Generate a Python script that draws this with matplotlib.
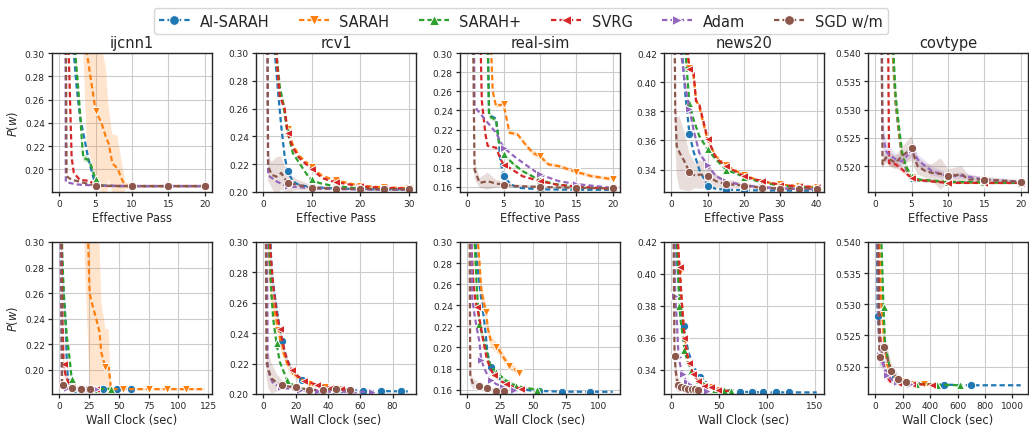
import numpy as np
import matplotlib
matplotlib.use("Agg")
import matplotlib.pyplot as plt
from matplotlib.lines import Line2D
from matplotlib.ticker import MultipleLocator

SERIES = ["AI-SARAH", "SARAH", "SARAH+", "SVRG", "Adam", "SGD w/m"]
COLORS = ["#1f77b4", "#ff7f0e", "#2ca02c", "#d62728", "#9467bd", "#8c564b"]
MARKERS = ["o", "v", "^", "<", ">", "o"]
DATASETS = ["ijcnn1", "rcv1", "real-sim", "news20", "covtype"]

# ---------------- Effective pass (top row) ----------------
IJCNN1_EP = {
    "AI-SARAH": dict(x=[0, 1, 1.5, 2, 2.4, 2.85, 3.5, 3.96, 4.6, 5, 6, 8, 10, 15, 20],
                     y=[0.693, 0.45, 0.34, 0.30, 0.27, 0.245, 0.225, 0.21, 0.195, 0.1865, 0.1858, 0.1856, 0.1856, 0.1856, 0.1856]),
    "SARAH": dict(x=[0, 2, 3.5, 3.8, 5, 5.8, 6.4, 6.8, 7.3, 8, 8.7, 9.1, 10, 15, 20],
                  y=[0.693, 0.55, 0.35, 0.30, 0.25, 0.24, 0.228, 0.222, 0.205, 0.201, 0.19, 0.1858, 0.1856, 0.1856, 0.1856],
                  b=[0, 0.05, 0.08, 0.08, 0.055, 0.065, 0.06, 0.03, 0.025, 0.028, 0.012, 0.003, 0.001, 0.001, 0.001]),
    "SARAH+": dict(x=[0, 1, 2, 2.2, 2.6, 2.9, 3.1, 3.3, 4, 4.4, 4.8, 5.2, 6, 8, 10, 15, 20],
                   y=[0.693, 0.5, 0.32, 0.30, 0.27, 0.245, 0.225, 0.21, 0.208, 0.203, 0.195, 0.188, 0.186, 0.1856, 0.1856, 0.1856, 0.1856],
                   b=[0, 0, 0.004, 0.004, 0.004, 0.004, 0.004, 0.003, 0.003, 0.003, 0.002, 0.001, 0.001, 0, 0, 0, 0]),
    "SVRG": dict(x=[0, 1, 1.3, 1.7, 2, 2.8, 4.2, 5, 6, 10, 15, 20],
                 y=[0.693, 0.4, 0.30, 0.21, 0.197, 0.191, 0.19, 0.186, 0.1857, 0.1856, 0.1856, 0.1856]),
    "Adam": dict(x=[0, 0.85, 0.9, 2.4, 5, 10, 15, 20],
                 y=[0.693, 0.35, 0.189, 0.187, 0.186, 0.1856, 0.1856, 0.1856]),
    "SGD w/m": dict(x=[0, 0.85, 1, 1.7, 2.4, 5, 10, 15, 20],
                    y=[0.693, 0.40, 0.194, 0.191, 0.19, 0.1858, 0.1856, 0.1856, 0.1856]),
}
RCV1_EP = {
    "AI-SARAH": dict(x=[0, 2, 2.4, 3, 3.7, 4.4, 5, 6.1, 7.4, 10, 15, 20, 25, 30],
                     y=[0.693, 0.36, 0.30, 0.274, 0.2475, 0.226, 0.215, 0.2077, 0.205, 0.2035, 0.2025, 0.202, 0.2019, 0.2018]),
    "SARAH": dict(x=[0, 2, 2.7, 3.3, 4.3, 5, 6.1, 7.4, 10, 12, 14.2, 20, 25, 30],
                  y=[0.693, 0.38, 0.30, 0.272, 0.262, 0.245, 0.234, 0.226, 0.218, 0.212, 0.209, 0.2045, 0.2033, 0.2028]),
    "SARAH+": dict(x=[0, 2, 2.7, 3.4, 4.05, 4.9, 6.1, 7.4, 9.5, 11.5, 14.2, 20, 25, 30],
                   y=[0.693, 0.38, 0.30, 0.276, 0.265, 0.245, 0.228, 0.221, 0.21, 0.2065, 0.2045, 0.2025, 0.2018, 0.2015]),
    "SVRG": dict(x=[0, 2, 2.7, 3.4, 4.4, 5, 6.1, 7.4, 10.1, 12.2, 14.2, 20, 25, 30],
                 y=[0.693, 0.38, 0.30, 0.269, 0.26, 0.2427, 0.232, 0.2246, 0.216, 0.21, 0.2077, 0.204, 0.203, 0.2025]),
    "Adam": dict(x=[0, 0.8, 1, 2.7, 4, 5, 7.4, 10, 15, 20, 30],
                 y=[0.693, 0.35, 0.212, 0.2077, 0.2055, 0.204, 0.2035, 0.2025, 0.202, 0.2018, 0.2015]),
    "SGD w/m": dict(x=[0, 0.8, 1, 1.7, 2.7, 3.7, 5, 6.8, 10, 15, 20, 25, 30],
                    y=[0.693, 0.35, 0.2186, 0.2125, 0.211, 0.2137, 0.2065, 0.2053, 0.203, 0.2025, 0.2022, 0.202, 0.202],
                    b=[0, 0.01, 0.011, 0.009, 0.014, 0.012, 0.007, 0.004, 0.002, 0.001, 0.001, 0.001, 0.001]),
}
REALSIM_EP = {
    "AI-SARAH": dict(x=[0, 2.8, 3, 3.95, 4.3, 4.6, 5, 6, 7.1, 10, 15, 20],
                     y=[0.693, 0.32, 0.235, 0.2314, 0.21, 0.185, 0.1712, 0.1625, 0.159, 0.1575, 0.157, 0.157]),
    "SARAH": dict(x=[0, 3.2, 3.5, 3.95, 5, 5.8, 6.9, 8, 9, 10, 11.2, 12.6, 15, 17.1, 20],
                  y=[0.693, 0.32, 0.26, 0.2447, 0.2464, 0.2167, 0.215, 0.2044, 0.1957, 0.192, 0.1834, 0.1817, 0.1757, 0.1712, 0.168],
                  b=[0, 0, 0.002, 0.002, 0.002, 0.002, 0.002, 0.002, 0.003, 0.003, 0.002, 0.002, 0.002, 0.002, 0.002]),
    "SARAH+": dict(x=[0, 2.8, 3, 3.95, 4.3, 4.7, 5, 6.2, 7.6, 10, 12, 15, 20],
                   y=[0.693, 0.32, 0.234, 0.23, 0.21, 0.198, 0.194, 0.185, 0.1765, 0.167, 0.163, 0.160, 0.158],
                   b=[0, 0, 0.003, 0.003, 0.002, 0.002, 0.002, 0.002, 0.001, 0.001, 0.001, 0.001, 0.001]),
    "SVRG": dict(x=[0, 1.8, 2, 2.5, 2.8, 3.95, 4.6, 5, 6, 7.6, 10, 12.6, 15, 20],
                 y=[0.693, 0.32, 0.25, 0.215, 0.203, 0.201, 0.1887, 0.1834, 0.179, 0.1712, 0.166, 0.162, 0.1605, 0.158]),
    "Adam": dict(x=[0, 0.9, 1, 2.8, 3.95, 5, 6.7, 9, 10, 12.6, 15, 20],
                 y=[0.693, 0.32, 0.244, 0.2272, 0.2167, 0.201, 0.1904, 0.178, 0.173, 0.166, 0.163, 0.159]),
    "SGD w/m": dict(x=[0, 0.8, 1, 1.7, 2.8, 3.95, 5, 6.2, 10, 15, 20],
                    y=[0.693, 0.32, 0.178, 0.1642, 0.166, 0.1635, 0.1625, 0.161, 0.16, 0.159, 0.1585],
                    b=[0, 0.01, 0.01, 0.005, 0.009, 0.004, 0.003, 0.002, 0.001, 0.001, 0.001]),
}
NEWS20_EP = {
    "AI-SARAH": dict(x=[0, 2.8, 3, 3.9, 5, 6.1, 7.7, 10, 12.3, 15, 20, 30, 40],
                     y=[0.693, 0.44, 0.42, 0.3906, 0.3646, 0.3526, 0.34, 0.3289, 0.3267, 0.3262, 0.3258, 0.3256, 0.3255]),
    "SARAH": dict(x=[0, 4.3, 4.5, 5, 6.1, 6.8, 7.7, 10, 12.3, 15, 16.8, 20, 25, 30, 35, 40],
                  y=[0.693, 0.44, 0.42, 0.41, 0.405, 0.388, 0.383, 0.36, 0.349, 0.343, 0.3405, 0.336, 0.3318, 0.3298, 0.3285, 0.328]),
    "SARAH+": dict(x=[0, 3.7, 3.9, 5, 6.1, 7.7, 10, 12.3, 15, 20, 25, 30, 35, 40],
                   y=[0.693, 0.44, 0.42, 0.3855, 0.3745, 0.363, 0.3538, 0.3469, 0.34, 0.335, 0.331, 0.329, 0.328, 0.3275]),
    "SVRG": dict(x=[0, 4.3, 4.5, 5, 6.1, 6.8, 7.7, 10, 12.3, 15, 16.8, 20, 25, 30, 35, 40],
                 y=[0.693, 0.44, 0.42, 0.409, 0.4078, 0.387, 0.3848, 0.3611, 0.348, 0.3423, 0.34, 0.3354, 0.332, 0.3295, 0.3285, 0.328]),
    "Adam": dict(x=[0, 2.5, 2.7, 3.9, 5, 6.1, 7.7, 10, 12.3, 15, 20, 30, 40],
                 y=[0.693, 0.44, 0.42, 0.3963, 0.3814, 0.3676, 0.3515, 0.3428, 0.3354, 0.332, 0.329, 0.327, 0.3265],
                 b=[0, 0, 0, 0.002, 0.002, 0.002, 0.002, 0.002, 0.001, 0.001, 0.001, 0.001, 0.001]),
    "SGD w/m": dict(x=[0, 0.9, 1.1, 1.5, 2.3, 3.6, 5, 6.8, 7.7, 10, 12.3, 15, 20, 25, 30, 35, 40],
                    y=[0.693, 0.44, 0.38, 0.356, 0.3515, 0.3457, 0.3382, 0.3354, 0.3366, 0.3359, 0.332, 0.3301, 0.329, 0.3274, 0.327, 0.327, 0.327],
                    b=[0, 0.01, 0.02, 0.02, 0.025, 0.02, 0.013, 0.008, 0.01, 0.008, 0.005, 0.003, 0.002, 0.001, 0.001, 0.001, 0.001]),
}
COVTYPE_EP = {
    "AI-SARAH": dict(x=[0, 2.2, 2.4, 2.8, 3.3, 3.7, 4.2, 5, 6, 10, 15, 20],
                     y=[0.693, 0.545, 0.54, 0.531, 0.525, 0.5215, 0.5195, 0.5178, 0.5174, 0.5171, 0.517, 0.517]),
    "SARAH": dict(x=[0, 2.2, 2.4, 2.8, 3.3, 3.7, 4.2, 5, 6, 10, 15, 20],
                  y=[0.693, 0.545, 0.54, 0.5315, 0.5255, 0.5218, 0.5198, 0.518, 0.5175, 0.5171, 0.517, 0.517]),
    "SARAH+": dict(x=[0, 2.3, 2.5, 2.8, 3.3, 3.7, 4.2, 5, 6, 10, 15, 20],
                   y=[0.693, 0.545, 0.54, 0.5324, 0.5265, 0.5224, 0.52, 0.5182, 0.5176, 0.5172, 0.5171, 0.517],
                   b=[0, 0.001, 0.001, 0.0012, 0.001, 0.0008, 0.0005, 0.0003, 0.0002, 0.0001, 0.0001, 0.0001]),
    "SVRG": dict(x=[0, 1.75, 1.9, 2.8, 3.7, 5, 6, 10, 15, 20],
                 y=[0.693, 0.545, 0.5205, 0.5203, 0.5194, 0.5178, 0.5175, 0.517, 0.517, 0.517],
                 b=[0, 0, 0.0006, 0.0006, 0.0005, 0.0003, 0.0002, 0.0001, 0.0001, 0.0001]),
    "Adam": dict(x=[0, 0.9, 1, 1.45, 1.9, 2.8, 3.7, 5, 6, 7.8, 10, 11.9, 15, 20],
                 y=[0.693, 0.545, 0.526, 0.5227, 0.522, 0.5212, 0.5208, 0.5228, 0.5209, 0.5191, 0.5182, 0.5183, 0.5176, 0.5172],
                 b=[0, 0, 0.004, 0.002, 0.0015, 0.001, 0.001, 0.0012, 0.001, 0.0008, 0.0005, 0.0005, 0.0003, 0.0002]),
    "SGD w/m": dict(x=[0, 0.85, 1, 1.45, 2.1, 2.8, 3.7, 5, 5.8, 6.9, 7.8, 9, 10, 11.9, 12.8, 15, 20],
                    y=[0.693, 0.545, 0.5203, 0.5215, 0.5211, 0.5206, 0.5218, 0.5231, 0.52, 0.5191, 0.5188, 0.5186, 0.5182, 0.5185, 0.5176, 0.5176, 0.5172],
                    b=[0, 0, 0.0008, 0.001, 0.0012, 0.0012, 0.0015, 0.0022, 0.0015, 0.0012, 0.0015, 0.0028, 0.0012, 0.0015, 0.0008, 0.0005, 0.0003]),
}

# ---------------- Wall clock (bottom row) ----------------
IJCNN1_WC = {
    "AI-SARAH": dict(x=[0, 1.5, 2, 3, 4.5, 5.5, 6.2, 7, 8, 10, 12, 20, 61],
                     y=[0.693, 0.35, 0.30, 0.27, 0.25, 0.235, 0.21, 0.197, 0.19, 0.1865, 0.1855, 0.1852, 0.1852],
                     m=[12.2, 24.4, 36.8, 48.3, 60.4],
                     b=[0, 0.01, 0.01, 0.01, 0.008, 0.006, 0.004, 0.003, 0.002, 0.001, 0, 0, 0]),
    "SARAH": dict(x=[0, 20, 24.2, 25.5, 28.3, 31, 33.8, 35.2, 38.7, 41.5, 43.4, 50, 122],
                  y=[0.693, 0.40, 0.30, 0.2595, 0.249, 0.24, 0.2295, 0.2138, 0.202, 0.202, 0.1851, 0.185, 0.185],
                  m=[38.7, 53.8, 75.0, 90.0, 106.6],
                  b=[0, 0.08, 0.08, 0.07, 0.07, 0.07, 0.07, 0.04, 0.03, 0.03, 0.002, 0.001, 0.001]),
    "SARAH+": dict(x=[0, 2, 2.5, 4, 5, 6.5, 7.7, 9, 10.4, 13, 16, 43.4],
                   y=[0.693, 0.32, 0.29, 0.255, 0.24, 0.225, 0.2165, 0.206, 0.193, 0.1865, 0.1853, 0.1852],
                   m=[10.4, 21, 32, 43.4]),
    "SVRG": dict(x=[0, 1.5, 2.5, 3.6, 5, 7.7, 10.4, 15, 33],
                 y=[0.693, 0.33, 0.25, 0.206, 0.197, 0.19, 0.187, 0.1855, 0.1852],
                 m=[3.8, 10.5, 17, 24, 31],
                 b=[0, 0.01, 0.01, 0.006, 0.004, 0.002, 0.001, 0, 0]),
    "Adam": dict(x=[0, 1, 2.2, 5, 10, 31],
                 y=[0.693, 0.30, 0.187, 0.1858, 0.1854, 0.1852],
                 m=[6.5, 12.5, 18.7, 25, 31]),
    "SGD w/m": dict(x=[0, 1.3, 2, 2.4, 4, 10.4, 26],
                    y=[0.693, 0.35, 0.24, 0.19, 0.187, 0.1855, 0.1852],
                    m=[3.5, 10.4, 18, 25.8]),
}
RCV1_WC = {
    "AI-SARAH": dict(x=[0, 3, 4.5, 5.1, 7.1, 9.2, 11.6, 14.3, 18.4, 22.4, 28.6, 36.7, 47, 62, 73, 90],
                     y=[0.693, 0.35, 0.30, 0.2803, 0.265, 0.2497, 0.2348, 0.2234, 0.2147, 0.2103, 0.207, 0.2048, 0.2033, 0.202, 0.2019, 0.2017],
                     m=[11.6, 24, 36.5, 49, 62, 73, 85],
                     b=[0, 0.01, 0.01, 0.008, 0.005, 0.004, 0.003, 0.002, 0.001, 0.001, 0.001, 0, 0, 0, 0, 0]),
    "SARAH": dict(x=[0, 2, 3, 4.1, 5.1, 7.1, 9.2, 12.2, 16.3, 22.4, 28.6, 34.7, 38.8, 47, 52],
                  y=[0.693, 0.35, 0.30, 0.2825, 0.265, 0.254, 0.242, 0.2278, 0.2158, 0.2103, 0.2066, 0.2052, 0.2045, 0.2033, 0.203],
                  m=[9.2, 18, 28.6, 38, 46],
                  b=[0, 0.01, 0.01, 0.008, 0.006, 0.005, 0.004, 0.003, 0.003, 0.002, 0.002, 0.001, 0.001, 0.001, 0.001]),
    "SARAH+": dict(x=[0, 2.5, 3.5, 5.1, 6.1, 8.2, 10.2, 14.7, 18.4, 22.4, 28.6, 34],
                   y=[0.693, 0.35, 0.30, 0.265, 0.2497, 0.2333, 0.2212, 0.2092, 0.2059, 0.2037, 0.202, 0.2011],
                   m=[8.2, 14.7, 21, 27.5, 34]),
    "SVRG": dict(x=[0, 3, 4.1, 6.1, 8.2, 10.2, 13.3, 16.3, 20.4, 25.5, 31.6, 38.8, 47, 52],
                 y=[0.693, 0.35, 0.30, 0.2716, 0.254, 0.243, 0.2278, 0.2179, 0.2125, 0.2085, 0.2066, 0.2044, 0.2033, 0.203],
                 m=[10.2, 18, 25.5, 33, 41, 48]),
    "Adam": dict(x=[0, 1.5, 2.3, 2.7, 4.1, 6.1, 10.2, 16.3, 28.6, 43, 67.3],
                 y=[0.693, 0.35, 0.30, 0.219, 0.2114, 0.207, 0.2048, 0.2033, 0.202, 0.2015, 0.2014],
                 m=[11, 22.5, 34, 45, 56, 67.3]),
    "SGD w/m": dict(x=[0, 1.2, 1.6, 2, 3.1, 5.1, 8.2, 11.8, 16.3, 20.4, 28.6, 37, 45.3, 53.5],
                    y=[0.693, 0.35, 0.30, 0.2212, 0.2158, 0.2103, 0.2074, 0.2059, 0.2048, 0.2045, 0.2026, 0.2026, 0.2032, 0.2026],
                    m=[11.8, 20.4, 28.6, 37, 45.3, 53.5],
                    b=[0, 0.01, 0.01, 0.01, 0.012, 0.01, 0.006, 0.003, 0.002, 0.001, 0.001, 0.001, 0.001, 0.001]),
}
REALSIM_WC = {
    "AI-SARAH": dict(x=[0, 5, 6.3, 7.3, 9.3, 10.6, 12.4, 13.9, 15.2, 16.9, 19.4, 24.5, 29.5, 36.4, 49.7, 72.5, 94, 111],
                     y=[0.693, 0.35, 0.30, 0.2815, 0.2593, 0.2465, 0.2306, 0.2147, 0.1972, 0.1861, 0.1765, 0.1702, 0.1654, 0.1613, 0.159, 0.1581, 0.158, 0.158],
                     m=[18, 36.4, 54.5, 72.5, 94]),
    "SARAH": dict(x=[0, 7, 8.1, 9.3, 10.6, 12.4, 14.4, 15.7, 18.2, 22, 24.5, 28.3, 32, 35.9, 39.6],
                  y=[0.693, 0.35, 0.30, 0.2815, 0.2561, 0.2434, 0.2338, 0.2179, 0.2052, 0.2004, 0.1972, 0.1893, 0.1829, 0.1797, 0.1759],
                  m=[14.4, 22, 32, 39.6],
                  b=[0, 0.01, 0.01, 0.01, 0.008, 0.008, 0.008, 0.006, 0.006, 0.005, 0.005, 0.004, 0.004, 0.003, 0.003]),
    "SARAH+": dict(x=[0, 5, 5.6, 7.3, 9.3, 11.9, 14.9, 16.9, 22, 29.5, 37.1, 44.7, 53.5, 58],
                   y=[0.693, 0.35, 0.30, 0.255, 0.222, 0.21, 0.196, 0.185, 0.1765, 0.1686, 0.1638, 0.1616, 0.16, 0.1598],
                   m=[9.3, 22, 37.1, 53.5],
                   b=[0, 0.005, 0.005, 0.005, 0.005, 0.004, 0.004, 0.003, 0.002, 0.002, 0.001, 0.001, 0.001, 0.001]),
    "SVRG": dict(x=[0, 2.5, 3, 4.8, 6.3, 7.3, 9.3, 11.9, 14.9, 18.2, 22, 27, 34.6, 42.2, 45],
                 y=[0.693, 0.35, 0.30, 0.2593, 0.2434, 0.2386, 0.2275, 0.2084, 0.1893, 0.1781, 0.1718, 0.167, 0.1629, 0.1606, 0.16],
                 m=[7.3, 20.7, 29.5, 40.9]),
    "Adam": dict(x=[0, 2.5, 3.2, 3.8, 5.6, 7.3, 9.3, 10.6, 13.1, 16.9, 22, 29.5, 35.9],
                 y=[0.693, 0.35, 0.30, 0.2465, 0.2306, 0.2179, 0.2052, 0.1886, 0.1797, 0.1702, 0.1654, 0.1616, 0.16],
                 m=[10.6, 18.2, 27, 35.9]),
    "SGD w/m": dict(x=[0, 1.5, 1.8, 2.3, 4.3, 9.3, 14.9, 22, 28.3],
                    y=[0.693, 0.35, 0.30, 0.1734, 0.1654, 0.1638, 0.1613, 0.159, 0.159],
                    m=[9.3, 15, 22, 28.3],
                    b=[0, 0.01, 0.01, 0.008, 0.005, 0.003, 0.002, 0.001, 0.001]),
}
NEWS20_WC = {
    "AI-SARAH": dict(x=[0, 4, 4.8, 6.9, 9.3, 12.8, 15.2, 17.9, 23.1, 28.3, 38.6, 49, 72, 100, 152],
                     y=[0.693, 0.45, 0.42, 0.4012, 0.3824, 0.3674, 0.3594, 0.3511, 0.3427, 0.3364, 0.3312, 0.3285, 0.3264, 0.326, 0.326],
                     m=[12.8, 30, 50, 72, 84, 96, 109, 123]),
    "SARAH": dict(x=[0, 5.5, 6.9, 8.6, 11, 13.8, 16.2, 18.6, 23.1, 28.3, 34.5, 42, 49, 56, 62],
                  y=[0.693, 0.45, 0.42, 0.405, 0.383, 0.361, 0.352, 0.345, 0.338, 0.3338, 0.3305, 0.3293, 0.3278, 0.3271, 0.3268],
                  m=[9, 14.5, 19.5, 24, 29, 36, 43, 50]),
    "SARAH+": dict(x=[0, 4.5, 5.9, 7.5, 8.3, 10, 13.8, 17, 22, 28, 35, 45, 55, 62],
                   y=[0.693, 0.45, 0.42, 0.395, 0.38, 0.37, 0.3528, 0.345, 0.338, 0.334, 0.331, 0.3285, 0.3272, 0.327],
                   m=[8.3, 13.8, 21, 29, 37, 46, 55, 62]),
    "SVRG": dict(x=[0, 5.5, 6.9, 8.6, 11, 13.8, 16.2, 18.6, 23.1, 28.3, 34.5, 42, 49, 56, 60],
                 y=[0.693, 0.45, 0.42, 0.4043, 0.3824, 0.3599, 0.3511, 0.3442, 0.3375, 0.3334, 0.3302, 0.3292, 0.3277, 0.327, 0.3268],
                 m=[8.6, 13.8, 18.6, 23.1, 28.3, 34.5, 42, 49]),
    "Adam": dict(x=[0, 3, 3.4, 4.1, 5.9, 7.6, 11, 16.2, 24.8, 36.9],
                 y=[0.693, 0.45, 0.42, 0.386, 0.3699, 0.348, 0.3386, 0.3323, 0.3292, 0.3271],
                 m=[4.1, 7.6, 12, 16.5, 21, 26, 31.5, 36.9]),
    "SGD w/m": dict(x=[0, 2, 2.4, 3.4, 4.8, 6.9, 11, 17.9, 27.6],
                    y=[0.693, 0.45, 0.42, 0.349, 0.3386, 0.3308, 0.3292, 0.3281, 0.3277],
                    m=[3.4, 6.9, 10.5, 14, 17.9, 21.5, 24.5, 27.6],
                    b=[0, 0.01, 0.012, 0.012, 0.01, 0.005, 0.002, 0.001, 0.001]),
}
COVTYPE_WC = {
    "AI-SARAH": dict(x=[0, 10, 12, 17, 36, 60, 96, 145, 217, 361, 500, 700, 1060],
                     y=[0.693, 0.56, 0.54, 0.5281, 0.5234, 0.5207, 0.5188, 0.518, 0.5175, 0.5172, 0.5171, 0.517, 0.517],
                     m=[17, 500, 700]),
    "SARAH": dict(x=[0, 25, 30, 40, 55, 70, 100, 150, 220, 300, 400],
                  y=[0.693, 0.56, 0.54, 0.532, 0.527, 0.5225, 0.5195, 0.518, 0.5174, 0.5172, 0.5171],
                  m=[95, 190, 282, 355]),
    "SARAH+": dict(x=[0, 40, 45, 60, 72, 108, 145, 217, 294, 453, 614],
                   y=[0.693, 0.56, 0.54, 0.5295, 0.5234, 0.5196, 0.5183, 0.5176, 0.5172, 0.5171, 0.517],
                   m=[60, 294, 453, 614],
                   b=[0, 0.003, 0.003, 0.002, 0.0015, 0.001, 0.0005, 0.0003, 0.0002, 0.0001, 0.0001]),
    "SVRG": dict(x=[0, 18, 22, 30, 48, 84, 108, 169, 265, 410],
                 y=[0.693, 0.56, 0.54, 0.527, 0.5212, 0.5186, 0.5176, 0.5174, 0.5172, 0.5171],
                 m=[84, 169, 265, 410]),
    "Adam": dict(x=[0, 12, 15, 25, 36, 60, 84, 145, 250],
                 y=[0.693, 0.56, 0.54, 0.525, 0.5218, 0.5202, 0.5186, 0.5175, 0.5172],
                 m=[36, 84, 160, 250],
                 b=[0, 0.002, 0.002, 0.002, 0.0015, 0.0012, 0.001, 0.0005, 0.0003]),
    "SGD w/m": dict(x=[0, 15, 19, 31, 65, 115, 164, 222, 240],
                    y=[0.693, 0.56, 0.54, 0.5215, 0.5232, 0.5193, 0.518, 0.5176, 0.5175],
                    m=[31, 65, 115, 164, 222],
                    b=[0, 0.002, 0.002, 0.0018, 0.002, 0.0015, 0.0008, 0.0004, 0.0003]),
}

TOP_DATA = [IJCNN1_EP, RCV1_EP, REALSIM_EP, NEWS20_EP, COVTYPE_EP]
BOT_DATA = [IJCNN1_WC, RCV1_WC, REALSIM_WC, NEWS20_WC, COVTYPE_WC]
TOP_YLIM = [(0.1805, 0.30), (0.20, 0.30), (0.1547, 0.30), (0.3246, 0.42), (0.5154, 0.540)]
BOT_YLIM = [(0.1812, 0.30), (0.20, 0.30), (0.1559, 0.30), (0.3250, 0.42), (0.5156, 0.540)]
TOP_XSTEP = [5, 10, 5, 10, 5]
BOT_XSTEP = [25, 20, 25, 50, 200]
YSTEP = [0.02, 0.02, 0.02, 0.02, 0.005]
EP_MARK_STEP = 5

DARK = "#262626"
plt.rcParams.update({
    "font.family": "DejaVu Sans",
    "axes.edgecolor": DARK,
    "axes.linewidth": 1.0,
    "xtick.color": DARK,
    "ytick.color": DARK,
    "xtick.labelcolor": DARK,
    "ytick.labelcolor": DARK,
    "xtick.labelsize": 6.5,
    "ytick.labelsize": 6.5,
    "xtick.major.size": 3,
    "ytick.major.size": 3,
    "xtick.major.pad": 2.2,
    "ytick.major.pad": 2.2,
    "xtick.major.width": 0.9,
    "ytick.major.width": 0.9,
    "axes.labelcolor": DARK,
})

fig = plt.figure(figsize=(10.29, 4.27), dpi=100)
W, H = 1029.0, 427.0
LW = 1.6
DASH = (2.4, 1.4)
MS = 6


def panel(left_px, top_px, bottom_px):
    return fig.add_axes([left_px / W, 1 - bottom_px / H, 160 / W, (bottom_px - top_px) / H])


def draw(ax, data):
    for name, color, mk in zip(SERIES, COLORS, MARKERS):
        d = data[name]
        x = np.asarray(d["x"], float)
        y = np.asarray(d["y"], float)
        if "b" in d:
            b = np.asarray(d["b"], float)
            ax.fill_between(x, y - b, y + b, color=color, alpha=0.2, lw=0)
        ax.plot(x, y, color=color, lw=LW, dashes=DASH)
        if "m" in d:
            mx = np.asarray(d["m"], float)
        else:
            mx = np.arange(0, x.max() + 0.01, EP_MARK_STEP)
        ax.plot(mx, np.interp(mx, x, y), ls="none", marker=mk, color=color,
                mec="white", mew=0.7, ms=MS)


def style(ax, i, xstep, ylim):
    ax.set_ylim(*ylim)
    ax.xaxis.set_major_locator(MultipleLocator(xstep))
    ax.yaxis.set_major_locator(MultipleLocator(YSTEP[i]))
    ax.grid(True, color="#cccccc", lw=0.8)
    ax.set_axisbelow(True)
    if i == 0:
        ax.set_ylabel("$P(w)$", fontsize=8.3, labelpad=3)


for i, name in enumerate(DATASETS):
    left = 52 + i * 204
    ax = panel(left, 54, 193)
    draw(ax, TOP_DATA[i])
    style(ax, i, TOP_XSTEP[i], TOP_YLIM[i])
    ax.set_title(name, fontsize=10.5, color=DARK, pad=4)
    ax.set_xlabel("Effective Pass", fontsize=8.3, labelpad=2)

    ax2 = panel(left, 243, 395)
    draw(ax2, BOT_DATA[i])
    style(ax2, i, BOT_XSTEP[i], BOT_YLIM[i])
    ax2.set_xlabel("Wall Clock (sec)", fontsize=8.3, labelpad=2)

handles = [Line2D([], [], color=c, lw=LW, dashes=DASH, marker=m, ms=MS + 1,
                  mec="white", mew=0.7) for c, m in zip(COLORS, MARKERS)]
leg = fig.legend(handles, SERIES, loc="upper center", bbox_to_anchor=(0.506, 0.995), ncol=6,
                 fontsize=10.5, frameon=True, handlelength=2.1, columnspacing=2.0,
                 borderpad=0.35, handletextpad=0.7)
leg.get_frame().set_edgecolor("#cccccc")
for t in leg.get_texts():
    t.set_color(DARK)

fig.savefig("out.png", dpi=100)
